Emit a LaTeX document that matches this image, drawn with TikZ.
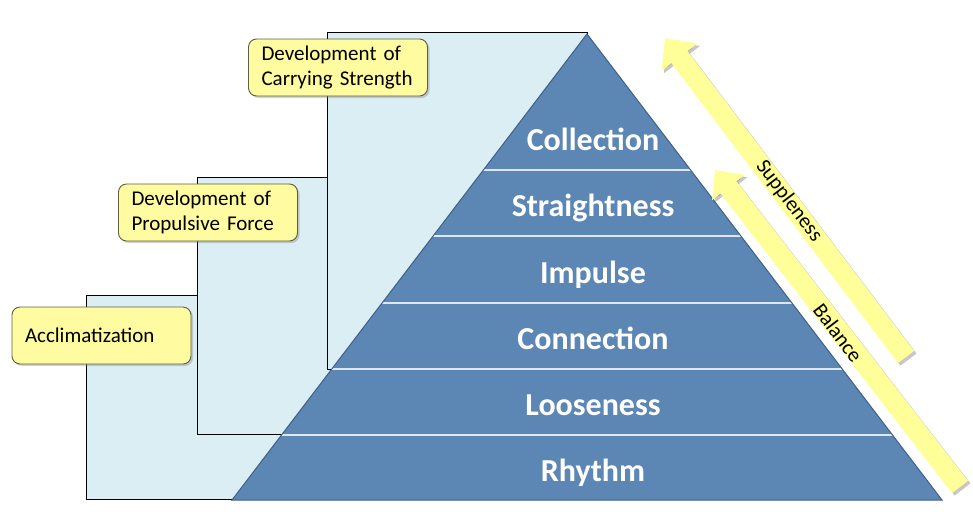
\documentclass[tikz,border=0pt]{standalone}
\usepackage{fontspec}
\setmainfont{Carlito}
\usetikzlibrary{arrows.meta,shadows}

\definecolor{pyrblue}{RGB}{92,134,180}
\definecolor{pyredge}{RGB}{62,96,138}
\definecolor{stepblue}{RGB}{218,238,243}
\definecolor{notefill}{RGB}{255,251,160}
\definecolor{noteedge}{RGB}{95,95,60}
\definecolor{arrowfill}{RGB}{255,255,153}

\tikzset{
  stepbox/.style={draw=black,line width=0.9pt,fill=stepblue},
  note/.style={draw=noteedge,line width=0.9pt,fill=notefill,rounded corners=8pt,
    drop shadow={shadow xshift=2pt,shadow yshift=-2pt,opacity=0.35},
    text width=153pt,inner xsep=13pt,inner ysep=0pt,minimum height=57pt,align=left,
    font=\fontsize{21}{25}\selectfont},
  level/.style={text=white,font=\fontsize{32}{36}\selectfont\bfseries,anchor=base,inner sep=0pt},
  bandline/.style={draw=white!80!pyrblue,line width=1.2pt},
  bigarrow/.style={line width=20pt,draw=arrowfill,-{Triangle[width=44pt,length=24pt]}},
  arrowshadow/.style={line width=20pt,draw=black,opacity=0.22,-{Triangle[width=44pt,length=24pt]},
    transform canvas={shift={(2.5pt,-2.5pt)}}},
  arrowtext/.style={font=\fontsize{21}{25}\selectfont,rotate=-52.8,inner sep=0pt}
}

\begin{document}
\begin{tikzpicture}[x=1pt,y=-1pt]
  \useasboundingbox (0,0) rectangle (973,528);

  % steps behind the pyramid
  \draw[stepbox] (86,295) rectangle (587,499);
  \draw[stepbox] (197,177) rectangle (587,434);
  \draw[stepbox] (327,32) rectangle (587,369);

  % pyramid
  \coordinate (apex) at (587,34);
  \coordinate (baseL) at (232,500);
  \coordinate (baseR) at (942,500);
  \fill[pyrblue] (apex) -- (baseL) -- (baseR) -- cycle;
  \begin{scope}
    \clip (apex) -- (baseL) -- (baseR) -- cycle;
    \foreach \y in {170,236,303,369,435}
      \draw[bandline] (200,\y) -- (1000,\y);
  \end{scope}
  \draw[pyredge,line width=1pt] (apex) -- (baseL) -- (baseR) -- cycle;

  \foreach \name/\txt/\y in {collection/Collection/150, straight/Straightness/216,
      impulse/Impulse/283, connection/Connection/349, loose/Looseness/415, rhythm/Rhythm/481}
    \node[level] (\name) at (593,\y) {\txt};

  % notes
  \node[note] (acclim) at (101.5,335.5) {Acclimatization};
  \node[note] (propulsive) at (208,212.5) {Development of\\Propulsive Force};
  \node[note] (carrying) at (338,67.5) {Development of\\Carrying Strength};

  % arrows
  \coordinate (suppTail) at (906,357);
  \coordinate (suppTip) at (665,38);
  \coordinate (balTail) at (960,487);
  \coordinate (balTip) at (715,170);
  \draw[arrowshadow] (suppTail) -- (suppTip);
  \draw[bigarrow] (suppTail) -- (suppTip);
  \draw[arrowshadow,-{Triangle[width=40pt,length=22pt]}] (balTail) -- (balTip);
  \draw[bigarrow,-{Triangle[width=40pt,length=22pt]}] (balTail) -- (balTip);

  \node[arrowtext] (supple) at (789,201) {Suppleness};
  \node[arrowtext] (balance) at (838,333) {Balance};
\end{tikzpicture}
\end{document}
